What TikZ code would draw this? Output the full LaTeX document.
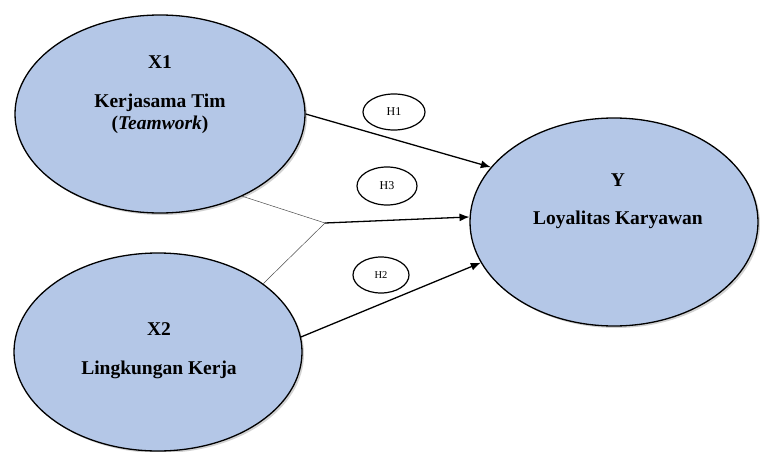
\documentclass[tikz,border=0pt]{standalone}
\usepackage{fontspec}
\setmainfont{Liberation Serif}
\usetikzlibrary{shapes.geometric,shadows,arrows.meta}
\definecolor{varfill}{RGB}{180,199,231}
\tikzset{
  varbox/.style={draw=black, line width=1.3pt, fill=varfill, ellipse, inner sep=0pt,
    drop shadow={opacity=0.35, shadow xshift=2pt, shadow yshift=-2pt}},
  hbox/.style={draw=black, line width=1.2pt, fill=white, ellipse, inner sep=0pt},
  lbl/.style={font=\fontsize{19.5}{21}\selectfont\bfseries, anchor=base, inner sep=0pt},
  arr/.style={line width=1.3pt, -{Latex[length=10pt,width=8pt]}},
  thin/.style={line width=0.5pt, draw=black!70}
}
\begin{document}
\begin{tikzpicture}[x=1pt,y=-1pt]
\useasboundingbox[fill=white] (0,0) rectangle (760,452);
\node[varbox, minimum width=290pt, minimum height=198pt] (x1) at (160,114) {};
\node[varbox, minimum width=288pt, minimum height=198pt] (x2) at (158,352) {};
\node[varbox, minimum width=288pt, minimum height=208pt] (y) at (614,222) {};
\node[lbl] (x1a) at (160,68) {X1};
\node[lbl] (x1b) at (160,107) {Kerjasama Tim};
\node[lbl] (x1c) at (160,129) {(\textit{Teamwork})};
\node[lbl] (x2a) at (159,335) {X2};
\node[lbl] (x2b) at (159,374) {Lingkungan Kerja};
\node[lbl] (ya) at (618,186) {Y};
\node[lbl] (yb) at (618,224) {Loyalitas Karyawan};
\node[hbox, minimum width=62pt, minimum height=36pt, font=\fontsize{12}{14}\selectfont] (h1) at (394,112) {H1};
\node[hbox, minimum width=60pt, minimum height=38pt, font=\fontsize{12}{14}\selectfont] (h3) at (387,186) {H3};
\node[hbox, minimum width=56pt, minimum height=36pt, font=\fontsize{10.5}{12}\selectfont] (h2) at (381,275) {H2};
\coordinate (j) at (325,223);
\draw[arr] (x1.east) -- (y.156);
\draw[thin] (x1.-45) -- (j);
\draw[thin] (x2.33) -- (j);
\draw[arr] (j) -- (y.178);
\draw[arr] (x2.6) -- (y.197);
\end{tikzpicture}
\end{document}
